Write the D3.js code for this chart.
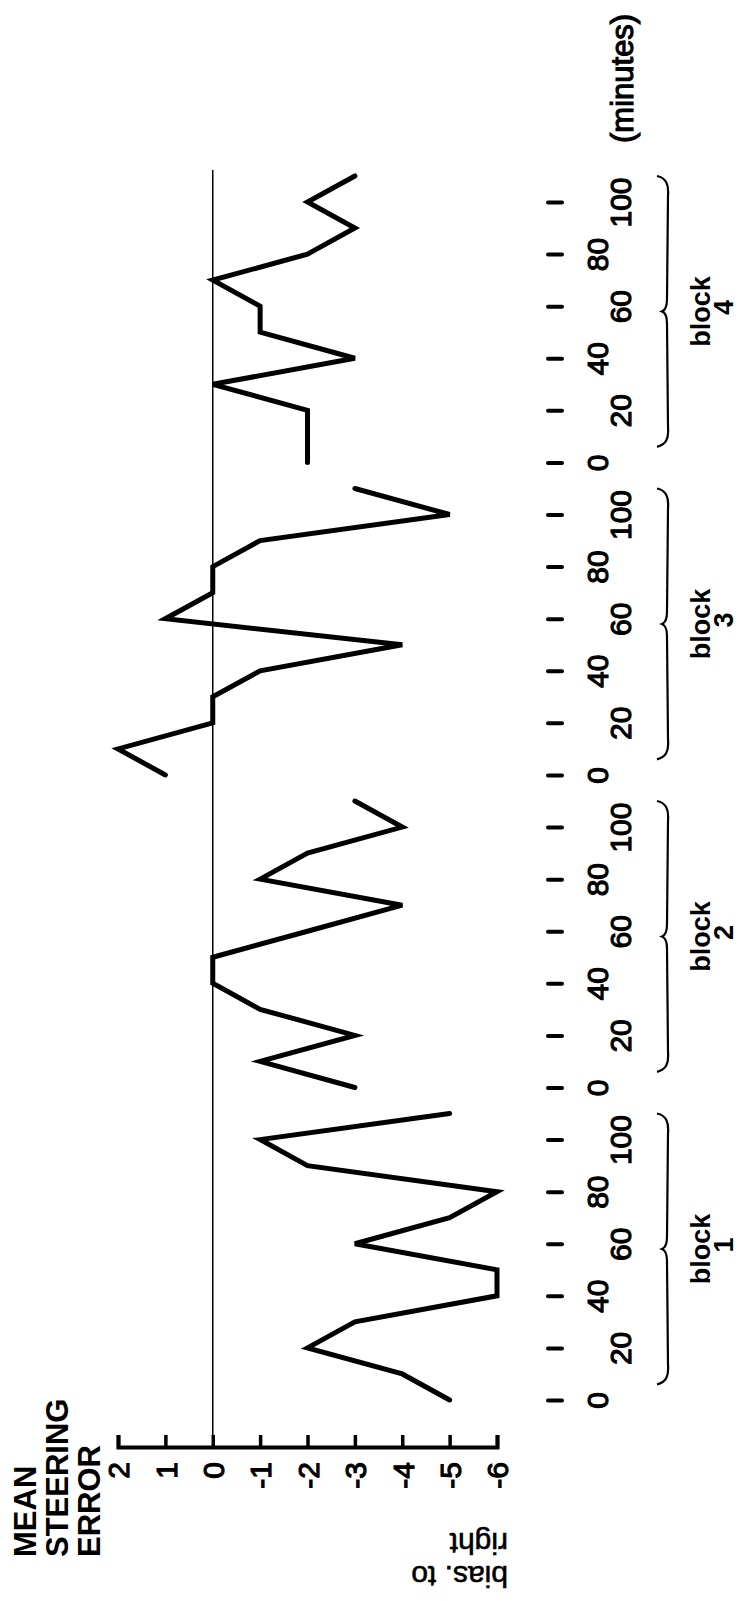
<!DOCTYPE html>
<html>
<head>
<meta charset="utf-8">
<script src="https://cdn.jsdelivr.net/npm/d3@7"></script>
<style>
  body { margin: 0; background: #fff; }
  svg text { font-family: "Liberation Sans", Arial, Helvetica, sans-serif; fill: #000; }
</style>
</head>
<body>
<svg id="chart" width="747" height="1601"></svg>
<script>
// mean steering error per block, read every 10 minutes
const blocks = ['1', '2', '3', '4'];
const minutes = [0, 10, 20, 30, 40, 50, 60, 70, 80, 90, 100, 110];
const block1 = [-5, -4, -2, -3, -6, -6, -3, -5, -6, -2, -1, -5];
const block2 = [-3, -1, -3, -1, 0, 0, -2, -4, -1, -2, -4, -3];
const block3 = [1, 2, 0, 0, -1, -4, 1, 0, 0, -1, -5, -3];
const block4 = [-2, -2, -2, 0, -3, -1, -1, 0, -2, -3, -2, -3];
const errorTicks = [2, 1, 0, -1, -2, -3, -4, -5, -6];
const minuteTicks = [0, 20, 40, 60, 80, 100];

const series = [block1, block2, block3, block4];
const SPAN = 120; // each block takes 100 min + one empty step on the time axis

const svg = d3.select('#chart');

// the figure is printed turned a quarter: error runs left-right, time runs bottom-up
const x = d3.scaleLinear().domain([2, -6]).range([118, 497]);
const y = d3.scaleLinear().domain([0, SPAN * 3 + 100]).range([1400, 202]);

// zero reference line
svg.append('line')
  .attr('x1', x(0)).attr('x2', x(0))
  .attr('y1', 170).attr('y2', 1447)
  .attr('stroke', '#000').attr('stroke-width', 1.5);

// value axis
const axisV = svg.append('g')
  .attr('transform', 'translate(0,1447)')
  .call(d3.axisBottom(x).tickValues(errorTicks).tickSize(-12).tickSizeOuter(-12)
    .tickFormat(d => String(d)));
axisV.select('.domain').attr('stroke', '#000').attr('stroke-width', 4);
axisV.selectAll('.tick line').attr('stroke', '#000').attr('stroke-width', 3.5);
axisV.selectAll('.tick text')
  .attr('transform', 'rotate(-90)')
  .attr('x', -15).attr('y', 0).attr('dy', '0.36em')
  .attr('text-anchor', 'end')
  .style('font-size', '30px')
  .attr('stroke', '#000').attr('stroke-width', 1.1);

// time axis: dashes without a line
const timeTicks = [];
blocks.forEach((b, i) => minuteTicks.forEach(t => timeTicks.push(i * SPAN + t)));

const axisT = svg.append('g')
  .attr('transform', 'translate(548,0)')
  .call(d3.axisRight(y).tickValues(timeTicks).tickSize(14)
    .tickFormat(d => String(d % SPAN)));
axisT.select('.domain').remove();
axisT.selectAll('.tick line')
  .attr('stroke', '#000').attr('stroke-width', 4).attr('stroke-linecap', 'round');
axisT.selectAll('.tick text')
  .attr('transform', 'rotate(-90)')
  .attr('x', 0).attr('dy', 0)
  .attr('y', d => ((d % SPAN) / 20) % 2 === 0 ? 60 : 83)
  .attr('text-anchor', 'middle')
  .style('font-size', '30px')
  .attr('stroke', '#000').attr('stroke-width', 1.1);

svg.append('text')
  .attr('transform', `translate(633,143) rotate(-90)`)
  .attr('text-anchor', 'start')
  .style('font-size', '31px')
  .attr('stroke', '#000').attr('stroke-width', 1.1)
  .text('(minutes)');

// braces and block names
blocks.forEach((b, i) => {
  const y1 = y(i * SPAN + 110), y0 = y(i * SPAN + 6), yc = y(i * SPAN + 58);
  const p = d3.path();
  p.moveTo(657, y1);
  p.bezierCurveTo(666, y1 + 2, 669, y1 + 8, 668, y1 + 20);
  p.lineTo(667, yc - 12);
  p.quadraticCurveTo(667, yc - 2, 662, yc);
  p.quadraticCurveTo(667, yc + 2, 667, yc + 12);
  p.lineTo(668, y0 - 20);
  p.bezierCurveTo(669, y0 - 8, 666, y0 - 2, 657, y0);
  svg.append('path')
    .attr('d', p.toString())
    .attr('fill', 'none').attr('stroke', '#000').attr('stroke-width', 2.2);

  svg.append('text')
    .attr('transform', `translate(710,${yc}) rotate(-90)`)
    .attr('text-anchor', 'middle')
    .style('font-size', '27px').style('font-weight', 'bold')
    .text('block');
  svg.append('text')
    .attr('transform', `translate(733,${yc - 4}) rotate(-90)`)
    .attr('text-anchor', 'middle')
    .style('font-size', '27px').style('font-weight', 'bold')
    .text(b);
});

// the four runs
const line = d3.line()
  .x(d => x(d.v))
  .y(d => y(d.g));

series.forEach((vals, i) => {
  const pts = vals.map((v, k) => ({ v, g: i * SPAN + minutes[k] }));
  svg.append('path')
    .datum(pts)
    .attr('d', line)
    .attr('fill', 'none')
    .attr('stroke', '#000')
    .attr('stroke-width', 5)
    .attr('stroke-linejoin', 'miter')
    .attr('stroke-miterlimit', 4)
    .attr('stroke-linecap', 'round');
});

// axis title, turned with the figure
['MEAN', 'STEERING', 'ERROR'].forEach((s, i) => {
  svg.append('text')
    .attr('transform', `translate(${36 + i * 32},1557) rotate(-90)`)
    .attr('text-anchor', 'start')
    .style('font-size', '31px').style('font-weight', 'bold')
    .text(s);
});

// upside-down note under the negative end
[['right', 1533], ['bias. to', 1566]].forEach(([s, yy]) => {
  svg.append('text')
    .attr('transform', `translate(508,${yy}) rotate(180)`)
    .attr('text-anchor', 'start')
    .style('font-size', '30px')
    .attr('stroke', '#000').attr('stroke-width', 0.6)
    .text(s);
});
</script>
</body>
</html>
